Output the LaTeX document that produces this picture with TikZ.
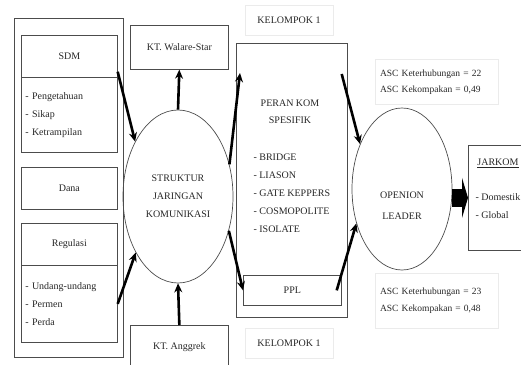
\documentclass[tikz,border=0pt]{standalone}
\usepackage{fontspec}
\setmainfont{Liberation Serif}
\usetikzlibrary{shapes.geometric,arrows.meta}

\begin{document}
\begin{tikzpicture}[x=1pt,y=-1pt,
    kotak/.style={draw=black!70, line width=0.7pt, inner sep=0pt, anchor=north west},
    bulat/.style={draw=black!70, line width=0.7pt, ellipse, inner sep=0pt},
    teks/.style={font=\fontsize{10}{18}\selectfont, text=black!85},
    samar/.style={draw=black!8, inner sep=0pt},
    panah/.style={line width=2.6pt, -{Stealth[length=9pt,width=8pt]}}]
  \useasboundingbox (0,0) rectangle (521,364);
  % faktor
  \node[kotak, minimum width=109pt, minimum height=339pt] (faktor) at (14,18) {};
  \node[kotak, teks, minimum width=96pt, minimum height=42pt] (sdm) at (21,35) {SDM};
  \node[kotak, teks, minimum width=96pt, minimum height=75pt, align=left, text width=88pt]
    (sdmisi) at (21,77) {- Pengetahuan\\- Sikap\\- Ketrampilan};
  \node[kotak, teks, minimum width=96pt, minimum height=42pt] (dana) at (21,167) {Dana};
  \node[kotak, teks, minimum width=96pt, minimum height=42pt] (regulasi) at (21,223) {Regulasi};
  \node[kotak, teks, minimum width=96pt, minimum height=77pt, align=left, text width=88pt]
    (regulasiisi) at (21,265) {- Undang-undang\\- Permen\\- Perda};
  % kelompok tani
  \node[kotak, teks, minimum width=98pt, minimum height=44pt] (walare) at (130,25) {KT. Walare-Star};
  \node[kotak, teks, minimum width=98pt, minimum height=44pt] (anggrek) at (130,325) {KT. Anggrek};
  \node[bulat, teks, align=center, minimum width=110pt, minimum height=173pt]
    (struktur) at (178,196.5) {STRUKTUR\\JARINGAN\\KOMUNIKASI};
  % peran
  \node[kotak, minimum width=111pt, minimum height=274pt] (peran) at (236,43) {};
  \node[teks, align=center, font=\fontsize{10}{17}\selectfont] (perankom) at (290,112) {PERAN KOM\\SPESIFIK};
  \node[teks, align=left, anchor=west] (peranlist) at (250,193)
    {- BRIDGE\\- LIASON\\- GATE KEPPERS\\- COSMOPOLITE\\- ISOLATE};
  \node[kotak, teks, minimum width=98pt, minimum height=30pt] (ppl) at (243,275) {PPL};
  \node[samar, teks, minimum width=88pt, minimum height=30pt] (kelompokatas) at (289,20) {KELOMPOK 1};
  \node[samar, teks, minimum width=88pt, minimum height=30pt] (kelompokbawah) at (289,343) {KELOMPOK 1};
  % opinion leader
  \node[bulat, minimum width=100pt, minimum height=162pt,
    label={[teks, align=center, font=\fontsize{10}{21}\selectfont, yshift=-17pt]center:{OPENION\\LEADER}}]
    (opl) at (402,189) {};
  \node[samar, teks, font=\fontsize{9.5}{16}\selectfont, align=left, text width=113pt,
    minimum width=123pt, minimum height=45pt]
    (ascatas) at (436.5,82) {ASC Keterhubungan = 22\\ASC Kekompakan = 0,49};
  \node[samar, teks, font=\fontsize{9.5}{17}\selectfont, align=left, text width=113pt,
    minimum width=123pt, minimum height=55pt]
    (ascbawah) at (436.5,300.5) {ASC Keterhubungan = 23\\ASC Kekompakan = 0,48};
  \node[kotak, minimum width=60pt, minimum height=105pt] (jarkom) at (468,145) {};
  \node[teks] (jarkomjudul) at (498,163) {\underline{JARKOM}};
  \node[teks, align=left, anchor=west] (jarkomisi) at (472,206) {- Domestik\\- Global};
  \begin{scope}[panah]
    \draw ([yshift=6pt]sdm.south east) -- (struktur.128);
    \draw (regulasiisi.east) -- (struktur.233);
    \draw (struktur.north) -- (walare.south);
    \draw (anggrek.north) -- (struktur.south);
    \draw (struktur.32) -- ([shift={(4pt,-30pt)}]peran.north west);
    \draw (struktur.-34) -- (ppl.west);
    \draw ([shift={(-6pt,-31pt)}]peran.north east) -- (opl.133);
    \draw ([xshift=-5pt]ppl.east) -- (opl.217);
  \end{scope}
  \draw[line width=18pt, -{Triangle[length=6pt,width=40pt]}] (opl.east |- jarkom.west) -- (jarkom.west);
\end{tikzpicture}
\end{document}
